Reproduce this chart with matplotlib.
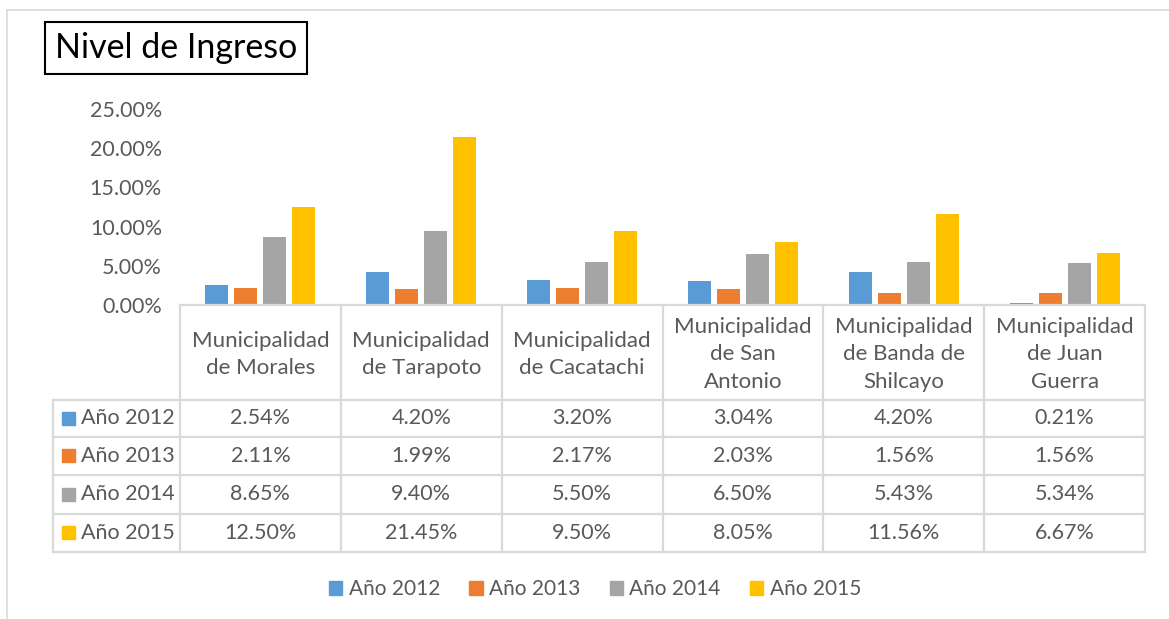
import matplotlib.pyplot as plt
from matplotlib.patches import Rectangle
from matplotlib.lines import Line2D

plt.rcParams['font.family'] = ['Lato', 'DejaVu Sans']

# data
municipios = ['Municipalidad\nde Morales', 'Municipalidad\nde Tarapoto', 'Municipalidad\nde Cacatachi',
              'Municipalidad\nde San\nAntonio', 'Municipalidad\nde Banda de\nShilcayo', 'Municipalidad\nde Juan\nGuerra']
series = ['Año 2012', 'Año 2013', 'Año 2014', 'Año 2015']
anio_2012 = [2.54, 4.20, 3.20, 3.04, 4.20, 0.21]
anio_2013 = [2.11, 1.99, 2.17, 2.03, 1.56, 1.56]
anio_2014 = [8.65, 9.40, 5.50, 6.50, 5.43, 5.34]
anio_2015 = [12.50, 21.45, 9.50, 8.05, 11.56, 6.67]
yticks = [0, 5, 10, 15, 20, 25]
colors = ['#5B9BD5', '#ED7D31', '#A5A5A5', '#FFC000']
values = [anio_2012, anio_2013, anio_2014, anio_2015]

W, H = 1169, 619
txt = '#595959'
grid = '#D9D9D9'

def fx(px):
    return px / W

def fy(py):
    return 1 - py / H

fig = plt.figure(figsize=(W / 100, H / 100), dpi=100)

# outer chart border
fig.add_artist(Line2D([fx(7), 1], [fy(10), fy(10)], color=grid, lw=1.2))
fig.add_artist(Line2D([fx(7), fx(7)], [fy(10), 0], color=grid, lw=1.2))

# title
fig.text(fx(55), fy(48), 'Nivel de Ingreso', fontsize=24.5, color='black', va='center', ha='left',
         bbox=dict(boxstyle='square,pad=0.3', fc='white', ec='black', lw=1.5))

# bars
x_left, x_right = 180, 1145
y0, y25 = 305, 109
ax = fig.add_axes([fx(x_left), fy(y0), fx(x_right - x_left), (y0 - y25) / H])
n = len(municipios)
bw = 23 / 161
step = 29 / 161
for i, (s, vals) in enumerate(zip(series, values)):
    xs = [k - 1.5 * step + i * step for k in range(n)]
    ax.bar(xs, [v / 100 for v in vals], width=bw, color=colors[i], label=s)
ax.set_xlim(-0.5, n - 0.5)
ax.set_ylim(0, 0.25)
ax.set_yticks([t / 100 for t in yticks])
ax.set_yticklabels([f'{t:.2f}%' for t in yticks])
ax.tick_params(axis='y', length=0, pad=13, labelsize=15.5, labelcolor=txt)
ax.tick_params(axis='x', length=0, labelbottom=False)
for sp in ax.spines.values():
    sp.set_visible(False)

# data table
col_w = (x_right - x_left) / n
rows = [305, 400, 437, 475, 514, 552]
lab_left = 53
for k in range(n + 1):
    xk = x_left + k * col_w
    fig.add_artist(Line2D([fx(xk), fx(xk)], [fy(rows[0]), fy(rows[-1])], color=grid, lw=1.6))
fig.add_artist(Line2D([fx(lab_left), fx(lab_left)], [fy(rows[1]), fy(rows[-1])], color=grid, lw=1.6))
fig.add_artist(Line2D([fx(x_left), fx(x_right)], [fy(rows[0]), fy(rows[0])], color=grid, lw=1.6))
for r in rows[1:]:
    fig.add_artist(Line2D([fx(lab_left), fx(x_right)], [fy(r), fy(r)], color=grid, lw=1.6))

for k, name in enumerate(municipios):
    cx = x_left + (k + 0.5) * col_w
    fig.text(fx(cx), fy((rows[0] + rows[1]) / 2 + 2), name, ha='center', va='center',
             fontsize=16, color=txt, linespacing=1.45)

for i, (s, vals) in enumerate(zip(series, values)):
    cy = (rows[i + 1] + rows[i + 2]) / 2
    fig.add_artist(Rectangle((fx(62), fy(cy + 6)), fx(13), 13 / H, color=colors[i]))
    fig.text(fx(81), fy(cy), s, ha='left', va='center', fontsize=15.5, color=txt)
    for k, v in enumerate(vals):
        cx = x_left + (k + 0.5) * col_w
        fig.text(fx(cx), fy(cy), f'{v:.2f}%', ha='center', va='center', fontsize=15.5, color=txt)

# legend
handles = [Rectangle((0, 0), 1, 1, color=c) for c in colors]
fig.legend(handles, series, loc='center', bbox_to_anchor=(fx(595), fy(589)), ncol=4, frameon=False,
           fontsize=15, labelcolor=txt, handlelength=0.65, handleheight=0.65, handletextpad=0.3,
           columnspacing=1.4)

fig.savefig('out.png', dpi=100)
